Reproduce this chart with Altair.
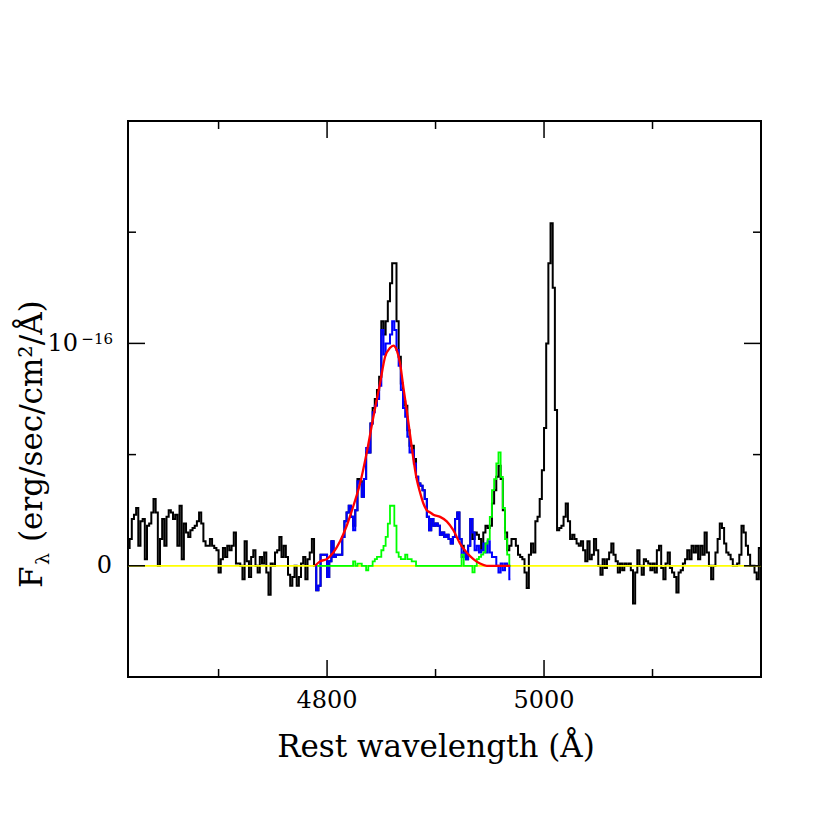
import altair as alt
import pandas as pd

# ---------------- data (flux in units of 1e-16 erg/s/cm^2/A) ----------------
black_wl = list(range(4617, 5202, 2))
black_flux = [
    0.08, 0.12, 0.21, 0.23, 0.26, 0.09, 0.20, 0.21, 0.03, 0.18,
    0.19, 0.24, 0.30, 0.24, 0.00, 0.12, 0.21, 0.09, 0.22, 0.25,
    0.24, 0.21, 0.23, 0.09, 0.27, 0.03, 0.19, 0.15, 0.13, 0.16,
    0.17, 0.18, 0.20, 0.24, 0.19, 0.11, 0.09, 0.09, 0.12, 0.09,
    0.08, 0.07, -0.03, 0.03, 0.08, 0.04, 0.09, 0.07, 0.09, 0.15,
    0.01, 0.01, 0.00, -0.06, 0.11, 0.02, -0.05, 0.04, 0.07, 0.00,
    -0.03, 0.04, 0.01, 0.06, -0.03, -0.13, 0.01, 0.00, 0.06, 0.07,
    0.13, 0.04, 0.09, 0.04, -0.04, -0.09, -0.05, 0.00, -0.09, -0.05,
    0.01, 0.04, -0.06, 0.03, 0.06, 0.12,
    0.00, -0.11, -0.09, 0.05, 0.05, 0.05, -0.05, 0.02, 0.11, 0.04,
    0.05, 0.05, 0.05, 0.13, 0.20, 0.24, 0.27, 0.22, 0.18, 0.25,
    0.39, 0.38, 0.31, 0.39, 0.51, 0.51, 0.64, 0.71, 0.75, 0.79,
    0.85, 1.10, 1.04, 1.10, 1.19, 1.27, 1.36, 1.36, 1.10, 0.94,
    0.82, 0.74, 0.72, 0.61, 0.54, 0.54, 0.48, 0.40, 0.37, 0.36,
    0.34, 0.30, 0.22, 0.16, 0.21, 0.18, 0.19, 0.18, 0.14, 0.15,
    0.13, 0.14, 0.12, 0.10, 0.13, 0.21, 0.24, 0.12, 0.09, 0.06,
    0.03, 0.09, 0.21, 0.12, 0.15, 0.14, 0.12, 0.07, 0.15, 0.18,
    0.17, 0.18, 0.28, 0.34, 0.40, 0.45, 0.39, 0.25, 0.15, 0.07,
    0.09,
    0.12, 0.12, 0.09, 0.05, 0.04, 0.03, -0.03, -0.10, 0.05, 0.10,
    0.06, 0.20, 0.22, 0.30, 0.43, 0.62, 1.00, 1.36, 1.54, 1.25,
    0.70,
    0.16, 0.17, 0.18, 0.22, 0.28, 0.20, 0.12, 0.14, 0.12, 0.10,
    0.09, 0.11, 0.07, 0.02, 0.11, 0.03, 0.05, 0.12, 0.07, 0.00,
    -0.04, 0.03, -0.01, 0.03, 0.06, 0.10, 0.05, 0.02, -0.03, 0.01,
    -0.02, 0.01, 0.00, 0.01, -0.02, -0.17, -0.03, 0.07, 0.00, -0.04,
    0.03, 0.02, 0.01, -0.02, 0.01, -0.03, 0.07, 0.09, -0.01, -0.06,
    0.01, 0.06, -0.01, -0.03, -0.05, -0.12, -0.03, -0.02, 0.01, 0.03,
    0.07, 0.03, 0.09, 0.06, 0.09, 0.03, 0.09, 0.05, 0.15, 0.06,
    0.00, -0.06, 0.00, 0.06, 0.12, 0.19, 0.17, 0.10, 0.06, 0.05,
    0.03, 0.00, 0.00, 0.01, 0.05, 0.18, 0.15, 0.09, 0.05, 0.00,
    0.00, -0.03, -0.06, 0.08, 0.08,
]

blue_wl = list(range(4789, 4970, 2))
blue_flux = [
    0.00, -0.11, -0.09, 0.05, 0.05, 0.05, -0.05, 0.02, 0.11, 0.04,
    0.05, 0.05, 0.05, 0.13, 0.20, 0.24, 0.27, 0.22, 0.16, 0.25,
    0.38, 0.37, 0.31, 0.39, 0.53, 0.51, 0.64, 0.69, 0.72, 0.75,
    0.81, 1.06, 0.95, 1.00, 1.00, 1.04, 1.10, 1.06, 0.97, 0.90,
    0.79, 0.71, 0.67, 0.58, 0.51, 0.52, 0.46, 0.40, 0.37, 0.36,
    0.34, 0.30, 0.22, 0.16, 0.21, 0.18, 0.19, 0.18, 0.14, 0.15,
    0.13, 0.14, 0.12, 0.10, 0.13, 0.21, 0.24, 0.12, 0.04, 0.06,
    0.03, 0.09, 0.21, 0.15, 0.07, 0.09, 0.06, 0.07, 0.10, 0.06,
    0.11, 0.06, 0.04, 0.04, 0.00, -0.03, 0.01, -0.02, 0.01, 0.00,
    -0.06,
]

green_wl = list(range(4791, 4970, 2))
green_flux = [
    0.00, 0.00, 0.00, 0.00, 0.00, 0.00, 0.00, 0.00, 0.00, 0.00,
    0.00, 0.00, 0.00, 0.00, 0.00, 0.00, 0.00,
    0.02, 0.00, 0.01, 0.01, 0.00, 0.00, -0.02, 0.00, 0.00, 0.02,
    0.03, 0.04, 0.04, 0.07, 0.09, 0.13, 0.19, 0.27, 0.27, 0.18,
    0.06, 0.04, 0.03, 0.03, 0.05, 0.03, 0.03, 0.02, 0.02, 0.00,
    0.00, 0.00, 0.00, 0.00, 0.00, 0.00, 0.00, 0.00, 0.00, 0.00,
    0.00, 0.00, 0.00, 0.00, 0.00, 0.00, 0.00, 0.00, 0.00, 0.00,
    0.05, 0.00, 0.00, 0.00, 0.00, -0.03, 0.00, 0.03, 0.04, 0.05,
    0.06, 0.10, 0.12, 0.22, 0.34, 0.39, 0.46, 0.51, 0.40, 0.26,
    0.12, 0.05, 0.00,
]

red_wl = [4788.9, 4793.5, 4799.7, 4805.8, 4812.0, 4818.1, 4824.3, 4830.4,
          4836.6, 4842.7, 4848.8, 4853.5, 4858.1, 4861.1, 4864.2, 4867.3,
          4870.4, 4873.4, 4876.5, 4879.6, 4882.6, 4885.7, 4888.8, 4891.9,
          4895.0, 4898.0, 4904.2, 4910.3, 4916.4, 4922.6, 4928.7, 4934.9,
          4941.0, 4947.2, 4968.7]
red_flux = [0.00, 0.02, 0.03, 0.06, 0.11, 0.18, 0.27, 0.37,
            0.51, 0.67, 0.82, 0.94, 0.98, 0.99, 0.97, 0.91,
            0.80, 0.70, 0.59, 0.48, 0.39, 0.33, 0.28, 0.25,
            0.24, 0.23, 0.22, 0.20, 0.16, 0.10, 0.06, 0.03,
            0.01, 0.00, 0.00]

zero_level = [0.0]
x_major = [4800, 5000]
x_major_labels = ["4800", "5000"]
x_minor = [4700, 4900, 5100]
y_major = [0, 1]
y_minor = [0.5, 1.5]
y_label_zero = ["0"]
y_label_mant = ["10"]
y_label_exp = ["\u221216"]
x_title = ["Rest wavelength (\u00c5)"]
y_title_main = ["F"]
y_title_sub = ["\u03bb"]
y_title_rest = ["(erg/sec/cm\u00b2/\u00c5)"]

# ---------------- chart ----------------
W, H = 633, 556
FONT = "DejaVu Serif"
xs = alt.Scale(domain=[4616.5, 5200], nice=False, zero=False)
ys = alt.Scale(domain=[-0.5, 2.0], nice=False, zero=False)


def spec(wl, fl, color, width, interp):
    df = pd.DataFrame({"wl": wl, "f": fl})
    return alt.Chart(df).mark_line(color=color, strokeWidth=width,
                                   interpolate=interp, clip=True).encode(
        x=alt.X("wl:Q", scale=xs, axis=None),
        y=alt.Y("f:Q", scale=ys, axis=None),
        order="wl:Q",
    )


yellow = alt.Chart(pd.DataFrame({"f": zero_level})).mark_rule(
    color="#ffff00", strokeWidth=1.8).encode(y=alt.Y("f:Q", scale=ys, axis=None))

black = spec(black_wl, black_flux, "black", 2.0, "step")
blue = spec(blue_wl, blue_flux, "#0000ff", 2.0, "step")
green = spec(green_wl, green_flux, "#00ff00", 1.8, "step")
red = spec(red_wl, red_flux, "#ff0000", 2.3, "monotone")


def xticks(vals, length):
    df = pd.DataFrame({"v": vals})
    b = alt.Chart(df).mark_rule(color="black", strokeWidth=1.5).encode(
        x=alt.X("v:Q", scale=xs, axis=None), y=alt.value(H), y2=alt.value(H - length))
    t = alt.Chart(df).mark_rule(color="black", strokeWidth=1.5).encode(
        x=alt.X("v:Q", scale=xs, axis=None), y=alt.value(0), y2=alt.value(length))
    return [b, t]


def yticks(vals, length):
    df = pd.DataFrame({"v": vals})
    l = alt.Chart(df).mark_rule(color="black", strokeWidth=1.5).encode(
        y=alt.Y("v:Q", scale=ys, axis=None), x=alt.value(0), x2=alt.value(length))
    r = alt.Chart(df).mark_rule(color="black", strokeWidth=1.5).encode(
        y=alt.Y("v:Q", scale=ys, axis=None), x=alt.value(W), x2=alt.value(W - length))
    return [l, r]


ticks = xticks(x_major, 17) + xticks(x_minor, 8) + yticks(y_major, 17) + yticks(y_minor, 8)

xlab = alt.Chart(pd.DataFrame({"v": x_major, "t": x_major_labels})).mark_text(
    font=FONT, fontSize=24, align="center", baseline="middle", color="black").encode(
    x=alt.X("v:Q", scale=xs, axis=None), y=alt.value(H + 24), text="t:N")
xtit = alt.Chart(pd.DataFrame({"t": x_title})).mark_text(
    font=FONT, fontSize=31, align="center", baseline="alphabetic", color="black").encode(
    x=alt.value(308), y=alt.value(H + 80), text="t:N")

lab0 = alt.Chart(pd.DataFrame({"v": [0], "t": y_label_zero})).mark_text(
    font=FONT, fontSize=24, align="right", baseline="middle", color="black").encode(
    y=alt.Y("v:Q", scale=ys, axis=None), x=alt.value(-16), text="t:N")
lab1 = alt.Chart(pd.DataFrame({"v": [1], "t": y_label_mant})).mark_text(
    font=FONT, fontSize=24, align="right", baseline="middle", color="black", dy=1).encode(
    y=alt.Y("v:Q", scale=ys, axis=None), x=alt.value(-50), text="t:N")
lab1e = alt.Chart(pd.DataFrame({"v": [1], "t": y_label_exp})).mark_text(
    font=FONT, fontSize=15, align="right", baseline="middle", color="black", dy=-4).encode(
    y=alt.Y("v:Q", scale=ys, axis=None), x=alt.value(-15), text="t:N")

ytitle_F = alt.Chart(pd.DataFrame({"t": y_title_main})).mark_text(
    font=FONT, fontSize=31, angle=270, align="left", baseline="alphabetic",
    color="black").encode(x=alt.value(-86), y=alt.value(467), text="t:N")
ytitle_l = alt.Chart(pd.DataFrame({"t": y_title_sub})).mark_text(
    font=FONT, fontSize=19, angle=270, align="left", baseline="alphabetic",
    color="black").encode(x=alt.value(-79), y=alt.value(444), text="t:N")
ytitle_r = alt.Chart(pd.DataFrame({"t": y_title_rest})).mark_text(
    font=FONT, fontSize=31, angle=270, align="left", baseline="alphabetic",
    color="black").encode(x=alt.value(-86), y=alt.value(421), text="t:N")

chart = alt.layer(
    black, yellow, blue, green, red, *ticks, xlab, xtit, lab0, lab1, lab1e,
    ytitle_F, ytitle_l, ytitle_r,
).properties(
    width=W, height=H,
    autosize=alt.AutoSizeParams(type="none"),
    padding={"left": 120, "top": 113, "right": 61, "bottom": 145},
    background="white",
).configure_view(stroke="black", strokeWidth=2)

chart.save("out.html", embed_options={"renderer": "svg", "actions": False})
